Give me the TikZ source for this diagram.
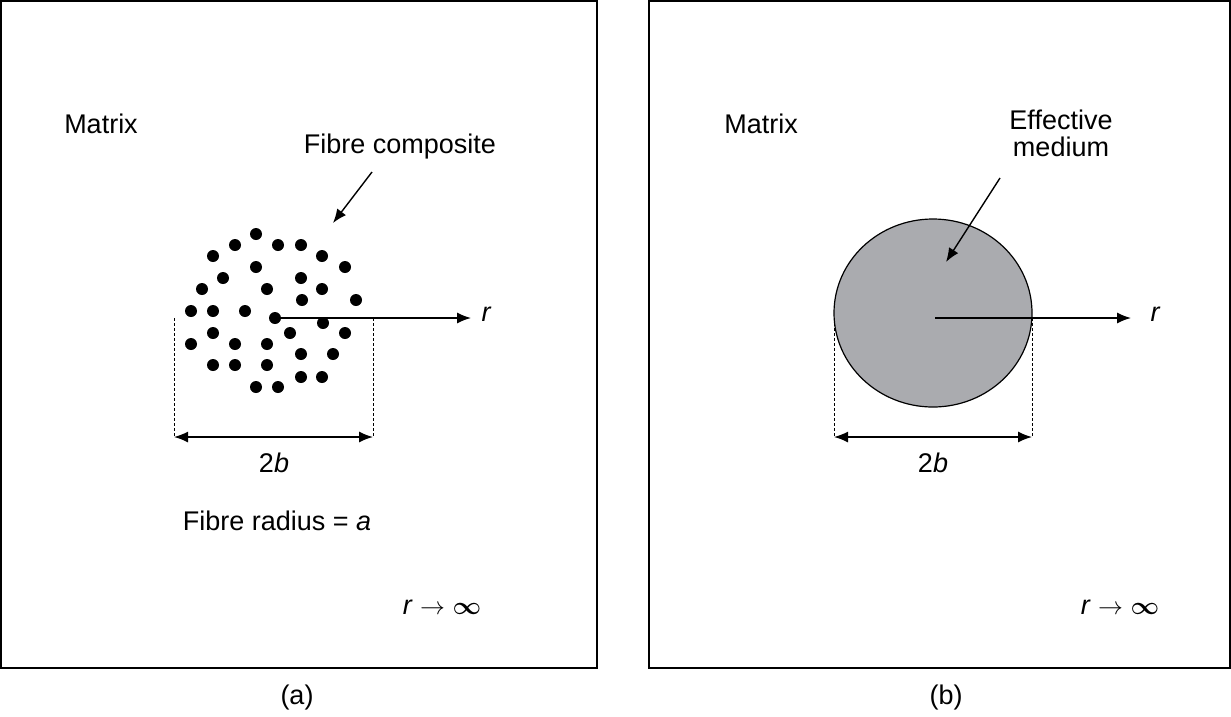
\documentclass[tikz,border=0pt]{standalone}
\usepackage{amsmath,amssymb}
\usepackage{fontspec}
\setmainfont{Liberation Sans}
\usetikzlibrary{arrows.meta}
\definecolor{medgray}{RGB}{170,171,175}
\tikzset{
 lbl/.style={font=\fontsize{27}{31}\selectfont,align=center},
 arr/.style={-{Latex[length=14pt,width=11pt]},line width=1.4pt},
 dim/.style={{Latex[length=14pt,width=11pt]}-{Latex[length=14pt,width=11pt]},line width=1.4pt},
 dsh/.style={dashed,line width=1pt,dash pattern=on 3pt off 2pt}
}
\begin{document}
\begin{tikzpicture}[x=1pt,y=-1pt]
\useasboundingbox (0,0) rectangle (1231,716);
% frames
\draw[line width=1.5pt] (1,1) rectangle (597,668);
\draw[line width=1.5pt] (649,1) rectangle (1230,668);

% (a) fibre composite
\foreach \x/\y in {256/234,235/245,278/245,301/245,213/256,322/256,256/267,345/267,
 223/278,301/278,202/289,267/289,322/289,302/300,356/300,191/311,213/311,245/311,
 275/318,323/323,213/333,290/333,345/333,191/344,235/344,267/344,301/354,333/354,
 213/365,235/365,267/365,301/377,322/377,256/387,278/387}
 \fill (\x,\y) circle (6);
\node[lbl] (matrixa) at (101,124) {Matrix};
\node[lbl] (fibcomp) at (400,147) {Fibre composite};
\coordinate (fctip) at (333,223);
\draw[arr] (372,172) -- (fctip);
\coordinate (ca) at (275,318);
\node[lbl,font=\fontsize{27}{31}\selectfont\itshape] (ra) at (486,314) {r};
\draw[arr] (ca) -- (471,318);
\coordinate (la) at (174,437);
\coordinate (rra) at (373,437);
\draw[dsh] (174,318) -- (la);
\draw[dsh] (373,318) -- (rra);
\draw[dim] (la) -- (rra);
\node[lbl] (twoba) at (274,463) {2\textit{b}};
\node[lbl] (radius) at (277,521) {Fibre radius = \textit{a}};
\node[lbl] (infa) at (442,607) {\textit{r} $\rightarrow$ $\boldsymbol{\infty}$};
\node[lbl] (capa) at (297,697) {(a)};

% (b) effective medium
\draw[line width=1.2pt,fill=medgray] (933,313) ellipse (99 and 94);
\node[lbl] (matrixb) at (761,124) {Matrix};
\node[lbl] (effmed) at (1061,133) {Effective\\[-4pt]medium};
\coordinate (emtip) at (946,262);
\draw[arr] (1000,178) -- (emtip);
\coordinate (cb) at (935,318);
\node[lbl,font=\fontsize{27}{31}\selectfont\itshape] (rb) at (1155,314) {r};
\draw[arr] (cb) -- (1131,318);
\coordinate (lb) at (834,437);
\coordinate (rrb) at (1032,437);
\draw[dsh] (834,318) -- (lb);
\draw[dsh] (1032,318) -- (rrb);
\draw[dim] (lb) -- (rrb);
\node[lbl] (twobb) at (933,463) {2\textit{b}};
\node[lbl] (infb) at (1120,607) {\textit{r} $\rightarrow$ $\boldsymbol{\infty}$};
\node[lbl] (capb) at (946,697) {(b)};
\end{tikzpicture}
\end{document}
